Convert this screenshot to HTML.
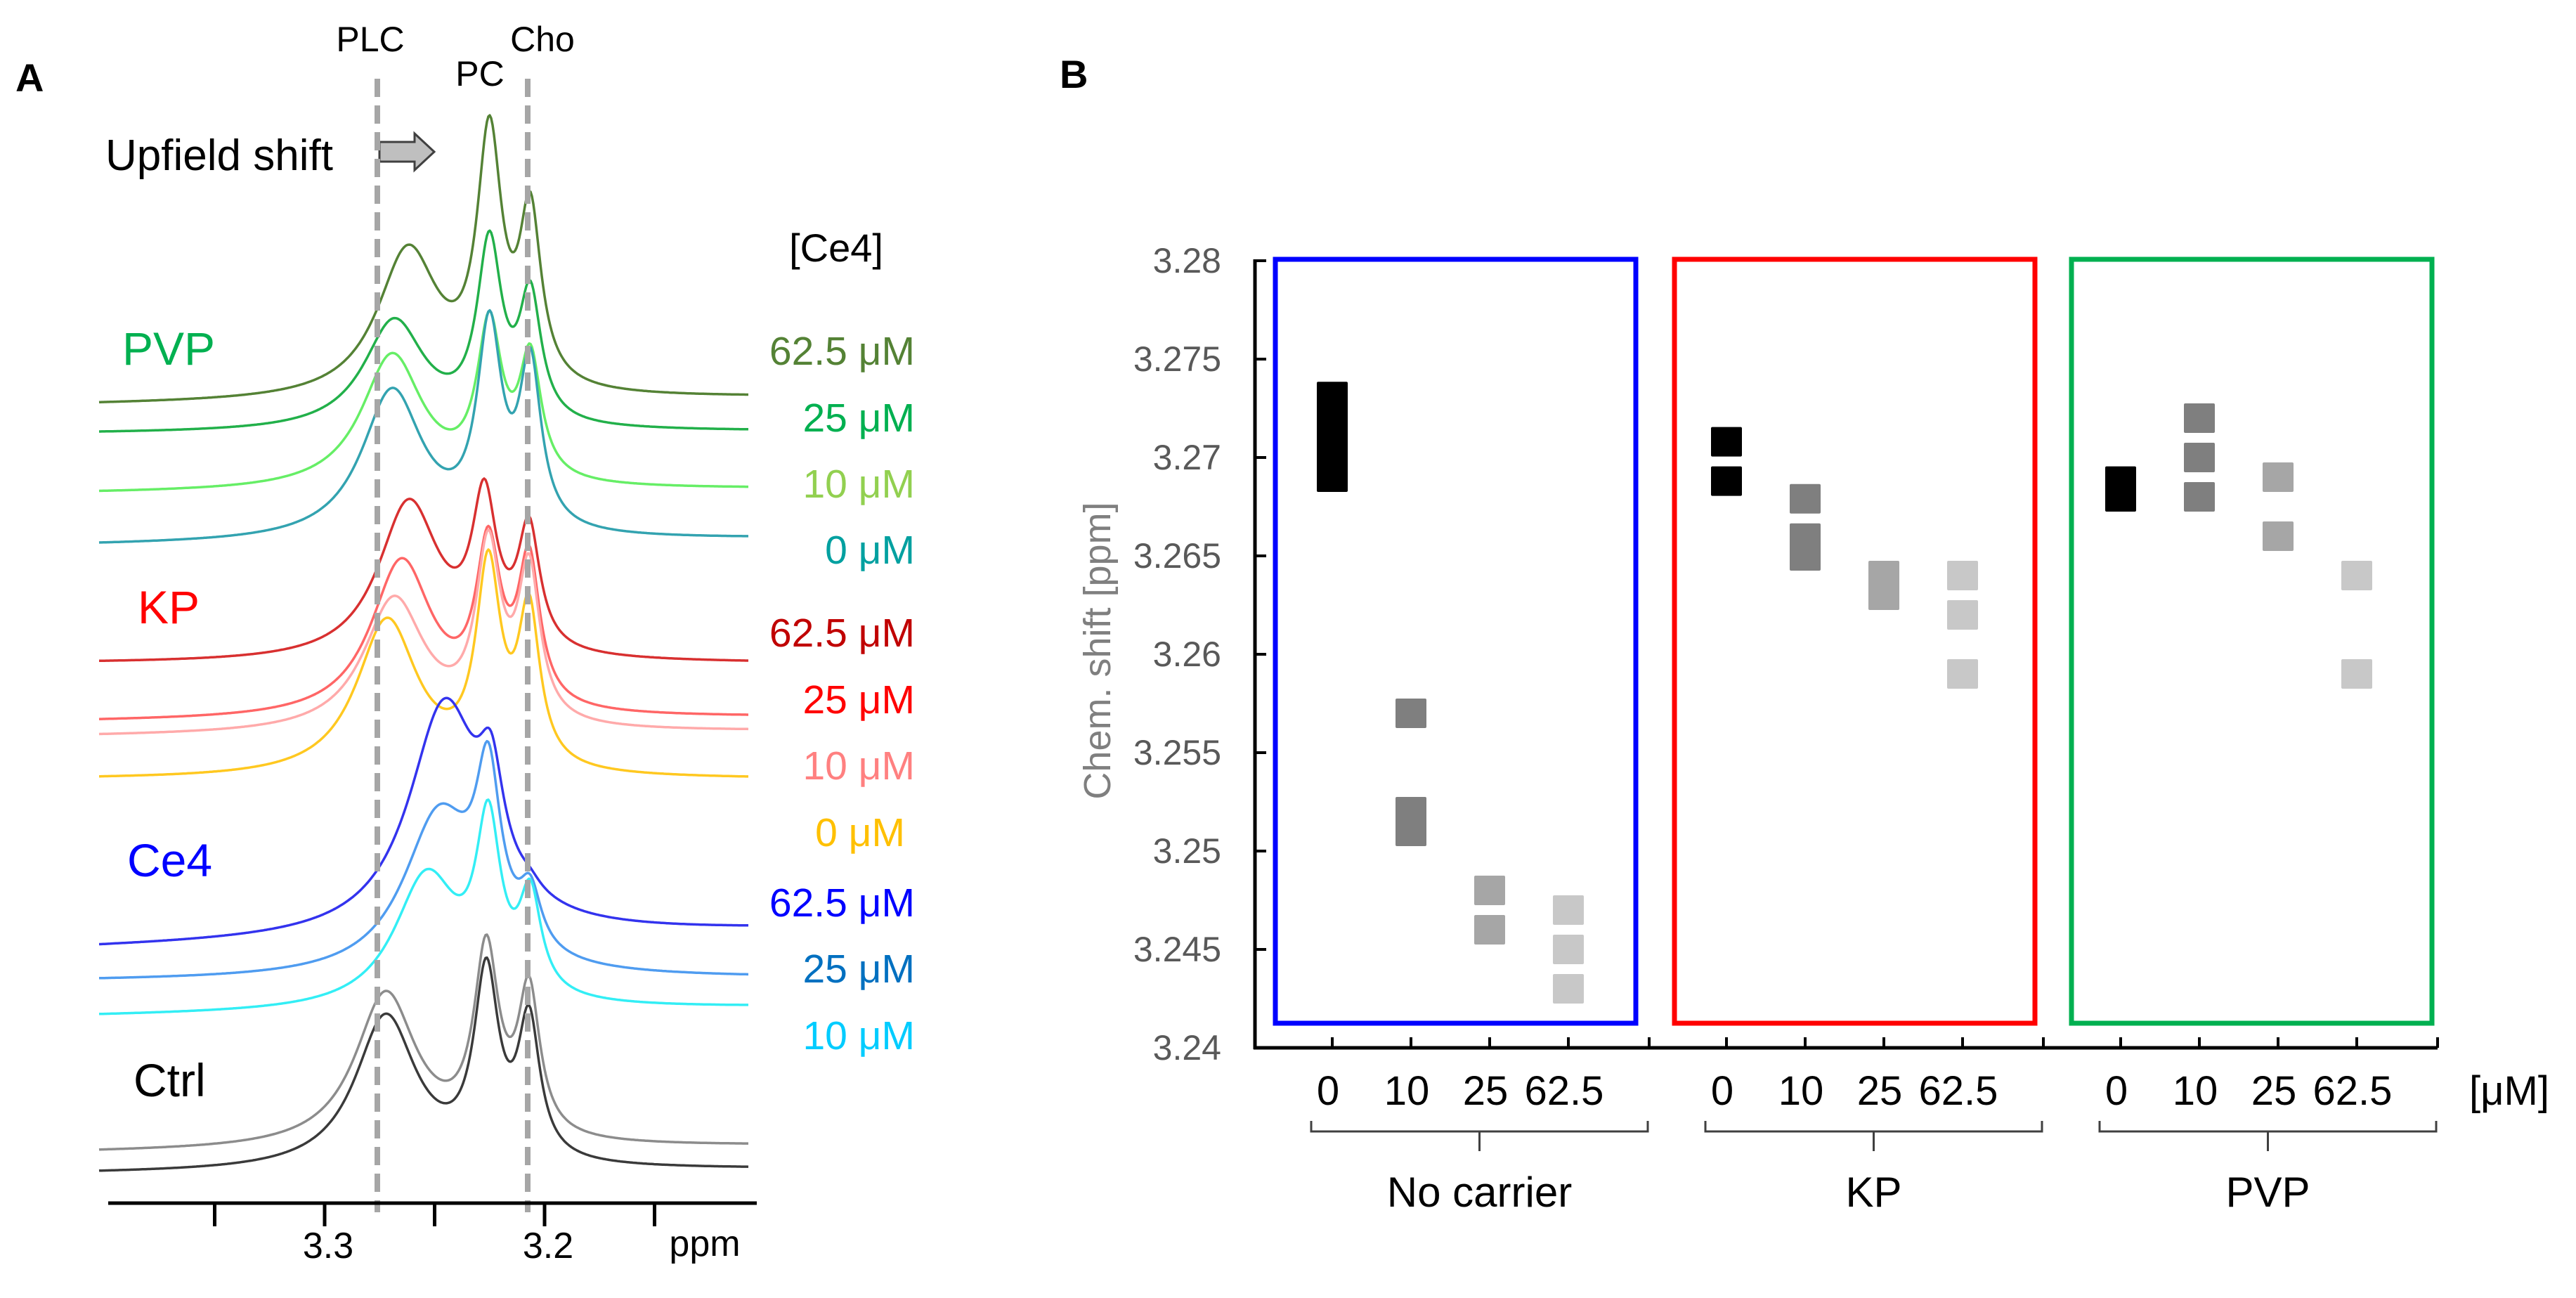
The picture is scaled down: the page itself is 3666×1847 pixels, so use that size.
<!DOCTYPE html>
<html><head><meta charset="utf-8"><style>
html,body{margin:0;padding:0;background:#fff;}
svg{display:block;font-family:"Liberation Sans",Arial,sans-serif;}
.nar{font-family:"Liberation Sans Narrow","Liberation Sans",sans-serif;}
</style></head><body>
<svg id="fig" width="3666" height="1847" viewBox="0 0 3666 1847" xmlns="http://www.w3.org/2000/svg">
<rect width="3666" height="1847" fill="#fff"/>
<g id="panelA">
  <text x="22" y="130" font-size="56" font-weight="bold">A</text>
  <text x="527" y="73" font-size="50" text-anchor="middle">PLC</text>
  <text x="683" y="122" font-size="50" text-anchor="middle">PC</text>
  <text x="772" y="73" font-size="50" text-anchor="middle">Cho</text>
  <text x="150" y="242" font-size="62">Upfield shift</text>
  <path d="M540 202 L590 202 L590 190 L618 216 L590 242 L590 230 L540 230 Z" fill="#bfbfbf" stroke="#404040" stroke-width="3"/>
  <text x="1190" y="372" font-size="56" text-anchor="middle">[Ce4]</text>
  <text x="174" y="519" font-size="66" fill="#00b050">PVP</text>
  <text x="196" y="887" font-size="66" fill="#ff0000">KP</text>
  <text x="181" y="1247" font-size="66" fill="#0000ff">Ce4</text>
  <text x="190" y="1560" font-size="66" fill="#000">Ctrl</text>
  <g id="spectra"></g>
  <g id="conclabels"></g>
  <line x1="537" y1="112" x2="537" y2="1725" stroke="#a6a6a6" stroke-width="8" stroke-dasharray="26 12"/>
  <line x1="751" y1="112" x2="751" y2="1725" stroke="#a6a6a6" stroke-width="8" stroke-dasharray="26 12"/>
  <g id="axisA"></g>
</g>
<g id="panelB">
  <text x="1508" y="125" font-size="56" font-weight="bold">B</text>
  <text transform="translate(1580,926) rotate(-90)" font-size="54" fill="#7f7f7f" text-anchor="middle">Chem. shift [ppm]</text>
  <g id="boxes"></g>
  <g id="markers"></g>
  <g id="axisB"></g>
</g>
</svg>
<script>
// ---------- Panel A data ----------
const traceNames = ['pvp-62.5','pvp-25','pvp-10','pvp-0','kp-62.5','kp-25','kp-10','kp-0','ce4-62.5','ce4-25','ce4-10','ctrl-a','ctrl-b'];
const traceColors = ['#548235','#22b04a','#66ee66','#33a3b0','#d83030','#ff6666','#ffaaaa','#ffc820','#3333ee','#4f9cf0','#33eef5','#8c8c8c','#3a3a3a'];
const baseLeft  = [576,617,702,776,944,1027,1048,1109,1349,1396,1446,1640,1670];
const baseRight = [566,614,696,767,944,1021,1041,1109,1324,1392,1434,1631,1664];
const plcPos = [3.2621,3.2684,3.2693,3.2693,3.2617,3.2650,3.2684,3.2716,3.2454,3.2479,3.2536,3.2722,3.2722];
const pcPos  = [3.2251,3.2251,3.2251,3.2251,3.2274,3.2256,3.2256,3.2256,3.2243,3.2256,3.2256,3.2265,3.2265];
const choPos = [3.2065,3.2065,3.2065,3.2065,3.2071,3.2071,3.2071,3.2071,3.2065,3.2065,3.2065,3.2071,3.2071];
const plcInt = [223,163,197,220,234,230,197,230,342,249,203,226,225];
const pcInt  = [406,287,256,329,263,275,290,327,293,338,301,305,304];
const choInt = [297,216,209,276,210,248,256,265,98,149,187,246,236];
const plcWidth = [0.017,0.017,0.017,0.017,0.017,0.017,0.017,0.017,0.02,0.02,0.018,0.017,0.017];
const concLabels = ['62.5 μM','25 μM','10 μM','0 μM','62.5 μM','25 μM','10 μM','0 μM','62.5 μM','25 μM','10 μM'];
const concColors = ['#548235','#00b050','#92d050','#00a0a0','#c00000','#ff0000','#ff8080','#ffc000','#0000ff','#0070c0','#00ccff'];
const concBaselines = [519,614,708,802,920,1015,1109,1204,1304,1398,1493];
const ppmTicks = [3.35,3.3,3.25,3.2,3.15];
const ppmTickLabels = ['','3.3','','3.2',''];

const NS='http://www.w3.org/2000/svg';
function mk(tag,attrs,parent){const e=document.createElementNS(NS,tag);for(const k in attrs)e.setAttribute(k,attrs[k]);parent.appendChild(e);return e;}
const xA = p => 462 - (p-3.3)*3130;
const xInv = x => 3.3 - (x-462)/3130;
const lor = (x,c,w) => 1/(1+((x-c)/w)*((x-c)/w));

const spectra=document.getElementById('spectra');
for(let t=0;t<traceNames.length;t++){
  const c=[plcPos[t],pcPos[t],choPos[t]], w=[plcWidth[t],0.0068,0.006], h=[plcInt[t],pcInt[t],choInt[t]];
  let a=h.slice();
  for(let it=0;it<80;it++){for(let j=0;j<3;j++){let s=0;for(let i=0;i<3;i++) if(i!==j) s+=a[i]*lor(c[j],c[i],w[i]); a[j]=Math.max(0,0.5*a[j]+0.5*(h[j]-s));}}
  const x0=141,x1=1066;let d='';
  for(let x=x0;x<=x1;x+=2){
    const p=xInv(x);const base=baseLeft[t]+(baseRight[t]-baseLeft[t])*(x-x0)/(x1-x0);
    let v=0;for(let i=0;i<3;i++) v+=a[i]*lor(p,c[i],w[i]);
    d+=(x===x0?'M':'L')+x+' '+(base-v).toFixed(1);
  }
  const path=mk('path',{d:d,fill:'none',stroke:traceColors[t],'stroke-width':3.5,'stroke-linejoin':'round'},spectra);
  
  
}
const cl=document.getElementById('conclabels');
for(let i=0;i<concLabels.length;i++){
  const tx=mk('text',{x:i===7?1288:1302,y:concBaselines[i],'font-size':57,'text-anchor':'end',fill:concColors[i]},cl);
  tx.textContent=concLabels[i];
  
  
}
const axA=document.getElementById('axisA');
const axl=mk('line',{x1:154,y1:1712,x2:1077,y2:1712,stroke:'#000','stroke-width':5},axA);


for(let i=0;i<ppmTicks.length;i++){
  const x=xA(ppmTicks[i]);
  const tk=mk('line',{x1:x,y1:1712,x2:x,y2:1745,stroke:'#000','stroke-width':5},axA);
  
  
  if(ppmTickLabels[i]){
    const tl=mk('text',{x:x+5,y:1790,'font-size':52,'text-anchor':'middle'},axA);
    tl.textContent=ppmTickLabels[i];
    
    
  }
}
const ppm=mk('text',{x:1003,y:1787,'font-size':52,'text-anchor':'middle'},axA);
ppm.textContent='ppm';



// ---------- Panel B data ----------
const groups = ['No carrier','KP','PVP'];
const concs = ['0','10','25','62.5'];
const groupColors = ['#0000ff','#ff0000','#00b050'];
const concFill = ['#000000','#7f7f7f','#a6a6a6','#c8c8c8'];
const noCarrier = [[3.2731,3.2720,3.2710,3.2700,3.2690],[3.2570,3.2520,3.2510],[3.2480,3.2460],[3.2470,3.2450,3.2430]];
const kpShifts  = [[3.2708,3.2688],[3.2679,3.2659,3.2650],[3.2640,3.2630],[3.2640,3.2620,3.2590]];
const pvpShifts = [[3.2688,3.2680],[3.2720,3.2700,3.2680],[3.2690,3.2660],[3.2640,3.2590]];
const yTicks = [3.24,3.245,3.25,3.255,3.26,3.265,3.27,3.275,3.28];
const yTickLabels = ['3.24','3.245','3.25','3.255','3.26','3.265','3.27','3.275','3.28'];
const allShifts=[noCarrier,kpShifts,pvpShifts];

const axisX0=1786, groupW=561, axisY=1491;
const yB = v => 1491 - (v-3.24)*28000;
const xB = (g,i) => axisX0 + g*groupW + 110 + i*112;
const boxLeft=[1815,2383,2948];

const bx=document.getElementById('boxes');
for(let g=0;g<groups.length;g++){
  const r=mk('rect',{x:boxLeft[g],y:369,width:513,height:1087,fill:'none',stroke:groupColors[g],'stroke-width':7},bx);
  
  
}
const mkG=document.getElementById('markers');
for(let g=0;g<groups.length;g++) for(let i=0;i<concs.length;i++) for(const v of allShifts[g][i]){
  const m=mk('rect',{x:xB(g,i)-22,y:yB(v)-21,width:44,height:42,rx:2,fill:concFill[i]},mkG);
  
  
}
const axB=document.getElementById('axisB');
const ya=mk('line',{x1:axisX0,y1:yB(3.28)-2,x2:axisX0,y2:axisY+2,stroke:'#000','stroke-width':5},axB);


const xa=mk('line',{x1:axisX0-2,y1:axisY,x2:axisX0+3*groupW,y2:axisY,stroke:'#000','stroke-width':5},axB);


for(let k=0;k<yTicks.length;k++){
  const y=yB(yTicks[k]);
  const t=mk('line',{x1:axisX0,y1:y,x2:axisX0+16,y2:y,stroke:'#000','stroke-width':4},axB);
  
  
  const l=mk('text',{x:1738,y:y+17,'font-size':50,'text-anchor':'end',fill:'#595959',class:'nar'},axB);
  l.textContent=yTickLabels[k];
  
  
}
for(let g=0;g<groups.length;g++){
  for(let i=0;i<concs.length;i++){
    const x=xB(g,i);
    const t=mk('line',{x1:x,y1:axisY,x2:x,y2:axisY-15,stroke:'#000','stroke-width':4},axB);
    
    
    const l=mk('text',{x:x-6,y:1572,'font-size':58,'text-anchor':'middle',class:'nar'},axB);
    l.textContent=concs[i];
    
    
  }
  const bxR=axisX0+(g+1)*groupW;
  const bt=mk('line',{x1:bxR,y1:axisY,x2:bxR,y2:axisY-15,stroke:'#000','stroke-width':4},axB);
  
  
  const l0=xB(g,0)-30, l1=bxR-2, mid=(l0+l1)/2;
  const br=mk('path',{d:`M${l0} 1595 L${l0} 1610 L${l1} 1610 L${l1} 1595 M${mid} 1610 L${mid} 1638`,fill:'none',stroke:'#404040','stroke-width':3},axB);
  
  
  const gl=mk('text',{x:mid,y:1717,'font-size':60,'text-anchor':'middle',class:'nar'},axB);
  gl.textContent=groups[g];
  
  
}
const un=mk('text',{x:3571,y:1572,'font-size':58,'text-anchor':'middle',class:'nar'},axB);
un.textContent='[μM]';


</script>
</body></html>
